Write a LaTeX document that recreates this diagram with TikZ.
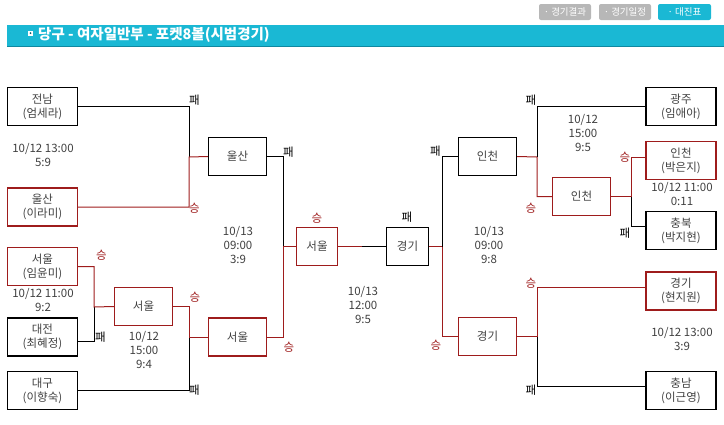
\documentclass[tikz,border=0pt]{standalone}
\usepackage{fontspec}
\setmainfont{Noto Sans CJK KR}
\definecolor{wonred}{RGB}{158,28,28}
\definecolor{headcyan}{RGB}{26,184,212}
\definecolor{headedge}{RGB}{16,136,160}
\definecolor{btngray}{RGB}{183,183,183}
\definecolor{textgray}{RGB}{64,64,64}
\tikzset{
 teambox/.style={
 rectangle,
 draw=black,
 line width=1.3pt,
 minimum width=70pt,
 minimum height=38pt,
 inner sep=0pt,
 align=center,
 text=textgray,
 font=\fontsize{11.5}{14}\selectfont
 },
 wonbox/.style={teambox, draw=wonred},
 gamebox/.style={teambox, minimum width=58pt},
 score/.style={align=center, text=textgray, inner sep=0pt, font=\fontsize{11.5}{14}\selectfont},
 winmark/.style={text=wonred, inner sep=0pt, font=\fontsize{11.5}{13}\selectfont},
 losemark/.style={text=black, inner sep=0pt, font=\fontsize{11.5}{13}\selectfont},
 winline/.style={draw=wonred, line width=1pt},
 loseline/.style={draw=black, line width=1pt},
 tabbtn/.style={rectangle, rounded corners=2pt, fill=btngray, text=white, minimum width=52pt, minimum height=16pt, inner sep=0pt, font=\fontsize{9.5}{10}\selectfont}
}

\begin{document}
\begin{tikzpicture}[x=1pt,y=-1pt]
 \useasboundingbox (0,0) rectangle (724,424);
 % tabs and title bar
 \node[tabbtn] (tabresult) at (565,12) {· 경기결과};
 \node[tabbtn] (tabplan) at (625,12) {· 경기일정};
 \node[tabbtn, fill=headcyan, minimum width=53pt] (tabdraw) at (684.5,12) {· 대진표};
 \fill[headcyan] (7,25) rectangle (724,47);
 \draw[headedge, line width=1.2pt] (7,46.4) -- (724,46.4);
 \node[fill=white, minimum size=5pt, inner sep=0pt] (icon) at (30.5,33) {};
 \fill[headedge!70!black] (icon.center) circle (1pt);
 \node[anchor=west, text=white, inner sep=0pt, font=\bfseries\fontsize{14.5}{16}\selectfont] (title) at (38,34.5) {당구 - 여자일반부 - 포켓8볼(시범경기)};

 % left half
 \node[teambox] (jeonnam) at (42.5,106.5) {전남\\(엄세라)};
 \node[wonbox] (ulsanA) at (42.5,207) {울산\\(이라미)};
 \node[wonbox] (seoulA) at (42.5,266.5) {서울\\(임윤미)};
 \node[teambox] (daejeon) at (42.5,337) {대전\\(최혜정)};
 \node[teambox] (daegu) at (42.5,390.5) {대구\\(이향숙)};
 \node[gamebox, draw=wonred] (seoulR) at (143.5,306.5) {서울};
 \node[gamebox] (ulsanQ) at (237.5,156.5) {울산};
 \node[gamebox, draw=wonred] (seoulQ) at (237.5,337) {서울};
 \node[gamebox, draw=wonred, minimum width=41pt] (seoulS) at (317,246.5) {서울};

 % right half
 \node[gamebox, minimum width=42pt] (gyeonggiS) at (407.5,246.5) {경기};
 \node[gamebox] (incheonQ) at (487.5,156.5) {인천};
 \node[gamebox, draw=wonred] (gyeonggiQ) at (487.5,336.5) {경기};
 \node[gamebox, draw=wonred] (incheonR) at (581.5,196.5) {인천};
 \node[teambox] (gwangju) at (681,106.5) {광주\\(임애아)};
 \node[wonbox] (incheonA) at (681,160.5) {인천\\(박은지)};
 \node[teambox] (chungbuk) at (681,230.5) {충북\\(박지현)};
 \node[wonbox] (gyeonggiA) at (681,291) {경기\\(현지원)};
 \node[teambox] (chungnam) at (681,390.5) {충남\\(이근영)};

 % junctions
 \coordinate (jA) at (189,157);
 \coordinate (jB) at (94,307);
 \coordinate (jC) at (189,337);
 \coordinate (jD) at (283,246.5);
 \coordinate (jE) at (362,246.5);
 \coordinate (jF) at (442,246.5);
 \coordinate (jG) at (537,157);
 \coordinate (jH) at (631,196.5);
 \coordinate (jI) at (537,336.5);

 % connectors
 \draw[loseline] (jeonnam.east) -| (jA);
 \draw[winline] (ulsanA.east) -| (jA) -- (ulsanQ.west);
 \draw[loseline] ([yshift=-4pt]daejeon.east) -| (jB);
 \draw[winline] (seoulA.east) -| (jB) -- (seoulR.west);
 \draw[loseline] (daegu.east) -| (jC);
 \draw[winline] (seoulR.east) -| (jC) -- (seoulQ.west);
 \draw[loseline] (ulsanQ.east) -| (jD);
 \draw[winline] (seoulQ.east) -| (jD) -- (seoulS.west);
 \draw[winline] (seoulS.east) -- (jE);
 \draw[loseline] (jE) -- (gyeonggiS.west);
 \draw[winline] (gyeonggiS.east) -- (jF) |- (gyeonggiQ.west);
 \draw[loseline] (jF) |- (incheonQ.west);
 \draw[winline] (incheonQ.east) -- (jG) |- (incheonR.west);
 \draw[loseline] (jG) |- (gwangju.west);
 \draw[winline] (incheonR.east) -- (jH) |- ([yshift=3.5pt]incheonA.west);
 \draw[loseline] (jH) |- ([yshift=4.5pt]chungbuk.west);
 \draw[winline] (gyeonggiQ.east) -- (jI) |- ([yshift=4pt]gyeonggiA.west);
 \draw[loseline] (jI) |- ([yshift=4.5pt]chungnam.west);

 % win / loss marks
 \node[losemark] (mA1) at (194.5,100) {패};
 \node[winmark] (mA2) at (194.5,208) {승};
 \node[losemark] (mD1) at (288.5,152) {패};
 \node[winmark] (mB1) at (101.5,255) {승};
 \node[losemark] (mB2) at (100.5,337) {패};
 \node[winmark] (mC1) at (195,297) {승};
 \node[losemark] (mC2) at (194.5,390) {패};
 \node[winmark] (mD2) at (289,347) {승};
 \node[winmark] (mS1) at (317,218) {승};
 \node[losemark] (mS2) at (407,217) {패};
 \node[losemark] (mF1) at (435.5,151) {패};
 \node[winmark] (mF2) at (436,345) {승};
 \node[losemark] (mG1) at (531,100) {패};
 \node[winmark] (mG2) at (531,208) {승};
 \node[winmark] (mH1) at (625,157) {승};
 \node[losemark] (mH2) at (625,233) {패};
 \node[winmark] (mI1) at (531,283) {승};
 \node[losemark] (mI2) at (531,390) {패};

 % dates and scores
 \node[score] (sc1) at (43,155) {10/12 13:00\\5:9};
 \node[score] (sc2) at (43,300) {10/12 11:00\\9:2};
 \node[score] (sc3) at (144,350) {10/12\\15:00\\9:4};
 \node[score] (sc4) at (238,245.5) {10/13\\09:00\\3:9};
 \node[score] (sc5) at (363,305) {10/13\\12:00\\9:5};
 \node[score] (sc6) at (489,245.5) {10/13\\09:00\\9:8};
 \node[score] (sc7) at (583,133) {10/12\\15:00\\9:5};
 \node[score] (sc8) at (682,194) {10/12 11:00\\0:11};
 \node[score] (sc9) at (682,339) {10/12 13:00\\3:9};
\end{tikzpicture}
\end{document}
